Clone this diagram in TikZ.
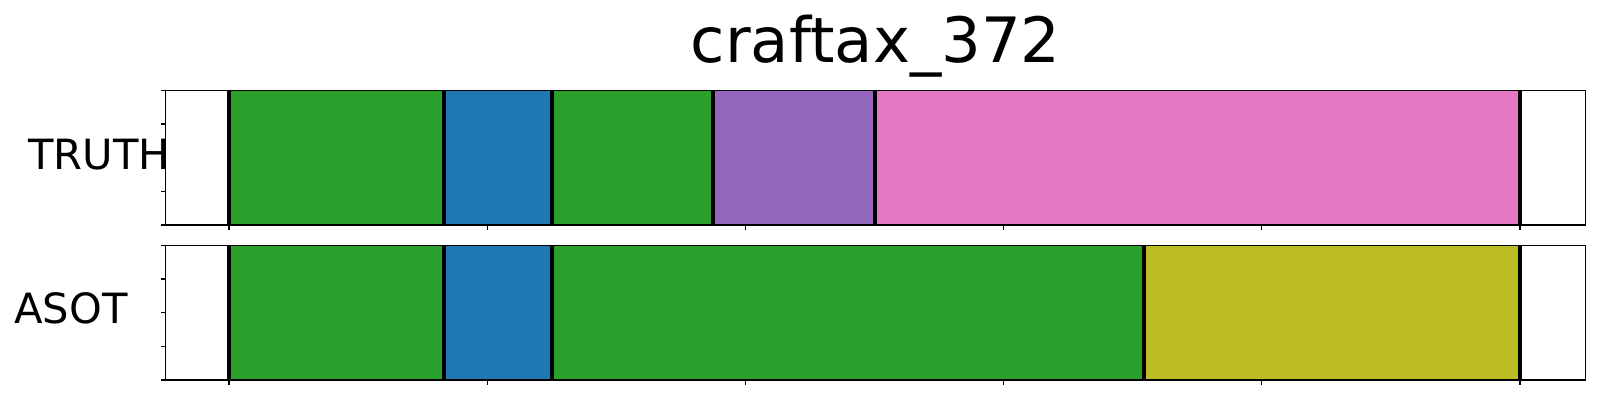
\documentclass[tikz,border=0pt]{standalone}
\usepackage{fontspec}
\setmainfont{DejaVu Sans}
\definecolor{tgreen}{HTML}{2CA02C}
\definecolor{tblue}{HTML}{1F77B4}
\definecolor{tpurple}{HTML}{9467BD}
\definecolor{tpink}{HTML}{E377C2}
\definecolor{tolive}{HTML}{BCBD22}
\tikzset{
  spine/.style={draw=black, line width=0.8pt},
  bound/.style={draw=black, line width=2.9pt},
  tick/.style={draw=black, line width=0.8pt},
  lbl/.style={anchor=base west, inner sep=0pt, font=\fontsize{30}{36}\selectfont},
}
\begin{document}
\begin{tikzpicture}[x=0.72pt, y=-0.72pt]
\useasboundingbox (0,0) rectangle (1600,400);
% title
\node[anchor=base, inner sep=0pt, font=\fontsize{45}{54}\selectfont] (title) at (875.7,62.7) {craftax\_372};
% labels
\node[lbl] (truth) at (28,170) {TRUTH};
\node[lbl] (asot) at (14,323.3) {ASOT};
% TRUTH segments
\fill[tgreen] (229,90.3) rectangle (443.7,225);
\fill[tblue] (443.7,90.3) rectangle (551.7,225);
\fill[tgreen] (551.7,90.3) rectangle (713,225);
\fill[tpurple] (713,90.3) rectangle (875,225);
\fill[tpink] (875,90.3) rectangle (1520,225);
\foreach \x in {229,443.7,551.7,713,875,1520}
  \draw[bound] (\x,90.3) -- (\x,225);
% ASOT segments
\fill[tgreen] (229,245.3) rectangle (443.7,380);
\fill[tblue] (443.7,245.3) rectangle (551.7,380);
\fill[tgreen] (551.7,245.3) rectangle (1144,380);
\fill[tolive] (1144,245.3) rectangle (1520,380);
\foreach \x in {229,443.7,551.7,1144,1520}
  \draw[bound] (\x,245.3) -- (\x,380);
% frames
\draw[spine] (165.7,90.3) rectangle (1585.7,225);
\draw[spine] (165.7,245.3) rectangle (1585.7,380);
% y ticks
\foreach \i in {0,1,2,3,4} {
  \draw[tick] (165.7,90.3+\i*33.675) -- ++(-4.9,0);
  \draw[tick] (165.7,245.3+\i*33.675) -- ++(-4.9,0);
}
% x ticks
\foreach \i in {0,1,2,3,4,5} {
  \draw[tick] (229+\i*258.2,225) -- ++(0,4.9);
  \draw[tick] (229+\i*258.2,380) -- ++(0,4.9);
}
\end{tikzpicture}
\end{document}
